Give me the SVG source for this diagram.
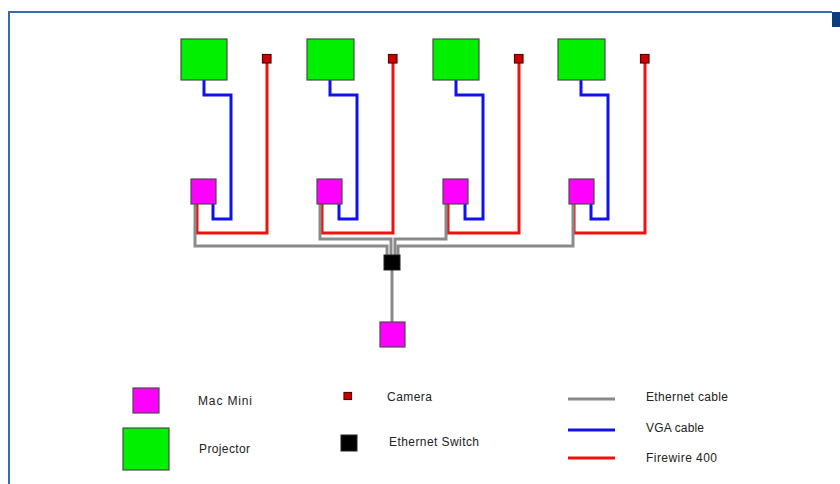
<svg xmlns="http://www.w3.org/2000/svg" width="840" height="484" viewBox="0 0 840 484">
<style>
.proj{fill:#00f000;stroke:#4a4a4a;stroke-width:1.2}
.mac{fill:#ff00ff;stroke:#4a4a4a;stroke-width:1.2}
.cam{fill:#cc0000;stroke:#5a0000;stroke-width:1.2}
.sw{fill:#000;stroke:#222;stroke-width:1}
.eth{fill:none;stroke:#8a8a8a;stroke-width:3}
.vga{fill:none;stroke:#1010f0;stroke-width:3}
.fw{fill:none;stroke:#ee1111;stroke-width:3}
text{font-family:"Liberation Sans",Arial,sans-serif;font-size:12px;fill:#222}
</style>
<rect width="840" height="484" fill="#fff"/>
<g id="frame">
<path d="M9,484 V12 H832" fill="none" stroke="#3b6aa8" stroke-width="2"/>
<rect x="832" y="12" width="8" height="15" fill="#0b3e7c"/>
</g>
<g id="connectors">
<!-- VGA cables -->
<path class="vga" d="M204,80 V95 H231 V219 H213 V204"/>
<path class="vga" d="M330,80 V95 H357 V219 H339 V204"/>
<path class="vga" d="M456,80 V95 H483 V219 H465 V204"/>
<path class="vga" d="M581,80 V95 H608 V219 H591 V204"/>
<!-- Firewire -->
<path class="fw" d="M267,63 V233 H197 V204"/>
<path class="fw" d="M393,63 V233 H322 V204"/>
<path class="fw" d="M519,63 V233 H448 V204"/>
<path class="fw" d="M645,63 V233 H574 V204"/>
<!-- Ethernet -->
<path class="eth" d="M195,204 V246 H387 V255"/>
<path class="eth" d="M320,204 V239 H391 V255"/>
<path class="eth" d="M446,204 V239 H395 V255"/>
<path class="eth" d="M573,204 V246 H398 V255"/>
<path class="eth" d="M392,270 V322"/>
</g>
<g id="projector1"><rect class="proj" x="181" y="39" width="46" height="41"/></g>
<g id="projector2"><rect class="proj" x="307" y="39" width="47" height="41"/></g>
<g id="projector3"><rect class="proj" x="433" y="39" width="46" height="41"/></g>
<g id="projector4"><rect class="proj" x="558" y="39" width="47" height="41"/></g>
<g id="camera1"><rect class="cam" x="262.5" y="54.5" width="8.5" height="8.5"/></g>
<g id="camera2"><rect class="cam" x="388.5" y="54.5" width="8.5" height="8.5"/></g>
<g id="camera3"><rect class="cam" x="514.5" y="54.5" width="8.5" height="8.5"/></g>
<g id="camera4"><rect class="cam" x="640.5" y="54.5" width="8.5" height="8.5"/></g>
<g id="macmini1"><rect class="mac" x="191" y="179" width="25" height="25"/></g>
<g id="macmini2"><rect class="mac" x="317" y="179" width="25" height="25"/></g>
<g id="macmini3"><rect class="mac" x="443" y="179" width="25" height="25"/></g>
<g id="macmini4"><rect class="mac" x="569" y="179" width="25" height="25"/></g>
<g id="switch"><rect class="sw" x="384" y="255" width="16" height="15"/></g>
<g id="macmini-main"><rect class="mac" x="380" y="322" width="25" height="25"/></g>
<g id="legend">
<rect class="mac" x="133" y="388" width="26" height="25"/>
<text x="198" y="405" textLength="54">Mac Mini</text>
<rect class="proj" x="123" y="428" width="46" height="42"/>
<text x="199" y="453" textLength="51">Projector</text>
<rect class="cam" x="344" y="392.5" width="7.5" height="7"/>
<text x="387" y="401" textLength="45">Camera</text>
<rect class="sw" x="341" y="435" width="16" height="16"/>
<text x="389" y="446" textLength="90">Ethernet Switch</text>
<line class="eth" x1="568" y1="399" x2="615" y2="399"/>
<text x="646" y="401" textLength="82">Ethernet cable</text>
<line class="vga" x1="568" y1="430" x2="615" y2="430"/>
<text x="646" y="432" textLength="58">VGA cable</text>
<line class="fw" x1="568" y1="458" x2="615" y2="458"/>
<text x="646" y="462" textLength="71">Firewire 400</text>
</g>
</svg>
